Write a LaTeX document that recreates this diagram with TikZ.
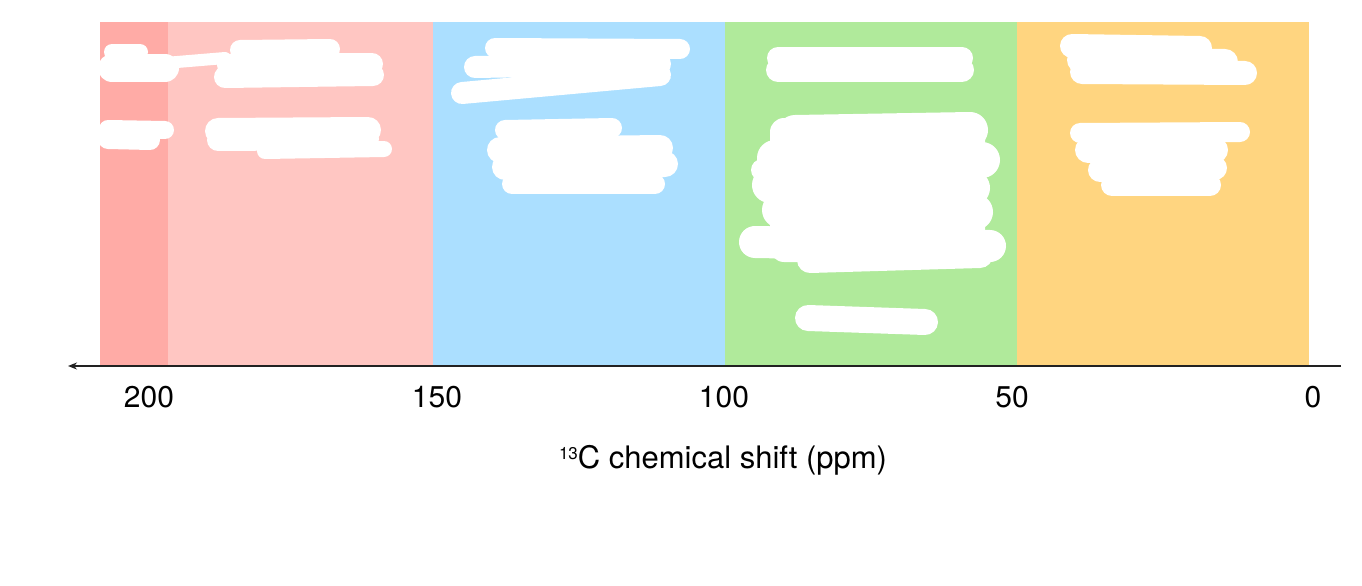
\documentclass[tikz,border=0pt]{standalone}
\usepackage{fontspec}
\setmainfont{TeX Gyre Heros}
\usetikzlibrary{arrows.meta}
\definecolor{redA}{HTML}{FFABA6}
\definecolor{redB}{HTML}{FFC6C2}
\definecolor{blueB}{HTML}{ABDFFF}
\definecolor{greenB}{HTML}{B0EA9B}
\definecolor{orangeB}{HTML}{FFD580}
\definecolor{axisgray}{HTML}{222222}
\tikzset{
  band/.style={fill=#1, draw=none},
  blob/.style={draw=white, line cap=round, line join=round, line width=#1},
  blobfill/.style={fill=white, draw=none, rounded corners=14pt},
  ticklbl/.style={font=\fontsize{30}{34}\selectfont, inner sep=0pt, anchor=center},
  axlbl/.style={font=\fontsize{31}{35}\selectfont, inner sep=0pt, anchor=center},
  axisline/.style={draw=axisgray, line width=1.5pt, -{Stealth[length=9pt,width=7pt]}}
}
\begin{document}
\begin{tikzpicture}[x=1pt,y=-1pt]
\useasboundingbox (0,0) rectangle (1362,586);
% bands
\fill[band=redA] (100,22) rectangle (168,366);
\fill[band=redB] (168,22) rectangle (433,366);
\fill[band=blueB] (433,22) rectangle (725,366);
\fill[band=greenB] (725,22) rectangle (1017,366);
\fill[band=orangeB] (1017,22) rectangle (1309,366);
% redaction blobs - red region
\draw[blob=28pt] (112,68) -- (165,68);
\draw[blob=16pt] (112,52) -- (140,52);
\draw[blob=12pt] (165,63) -- (225,58);
\draw[blob=20pt] (240,50) -- (330,49);
\draw[blob=22pt] (228,65) -- (372,64);
\draw[blob=22pt] (225,77) -- (373,75);
\draw[blob=18pt] (108,129) -- (165,130);
\draw[blob=20pt] (108,139) -- (150,140);
\draw[blob=26pt] (218,131) -- (368,130);
\draw[blob=22pt] (218,140) -- (368,139);
\draw[blob=16pt] (265,151) -- (384,149);
% blue region
\draw[blob=20pt] (495,48) -- (680,49);
\draw[blob=22pt] (475,67) -- (660,64);
\draw[blob=22pt] (462,93) -- (660,75);
\fill[blobfill] (500,40) rectangle (660,78);
\draw[blob=20pt] (505,130) -- (612,128);
\draw[blob=26pt] (500,150) -- (660,148);
\draw[blob=26pt] (505,167) -- (665,164);
\draw[blob=20pt] (512,184) -- (655,184);
% green region
\draw[blob=22pt] (778,58) -- (962,58);
\draw[blob=24pt] (778,70) -- (962,70);
\fill[blobfill] (770,118) rectangle (985,262);
\draw[blob=36pt] (795,133) -- (970,130);
\draw[blob=36pt] (775,158) -- (982,160);
\draw[blob=36pt] (770,185) -- (972,188);
\draw[blob=36pt] (780,210) -- (975,212);
\draw[blob=32pt] (755,242) -- (990,246);
\draw[blob=26pt] (810,260) -- (980,255);
\draw[blob=22pt] (762,170) -- (790,170);
\draw[blob=26pt] (808,318) -- (925,322);
% orange region
\draw[blob=24pt] (1072,46) -- (1200,48);
\draw[blob=26pt] (1080,60) -- (1225,62);
\draw[blob=24pt] (1082,72) -- (1245,73);
\draw[blob=20pt] (1080,133) -- (1240,132);
\draw[blob=26pt] (1088,150) -- (1215,150);
\draw[blob=24pt] (1100,170) -- (1215,168);
\draw[blob=22pt] (1112,185) -- (1210,185);
% axis
\coordinate (axR) at (1341,366);
\coordinate (axL) at (68,366);
\draw[axisline] (axR) -- (axL);
% tick labels
\node[ticklbl] (t200) at (149,397) {200};
\node[ticklbl] (t150) at (437,397) {150};
\node[ticklbl] (t100) at (724,397) {100};
\node[ticklbl] (t50) at (1012,397) {50};
\node[ticklbl] (t0) at (1313,397) {0};
\node[axlbl] (title) at (723,460) {\raisebox{0.28em}{\fontsize{17}{20}\selectfont 13}C chemical shift (ppm)};
\end{tikzpicture}
\end{document}
